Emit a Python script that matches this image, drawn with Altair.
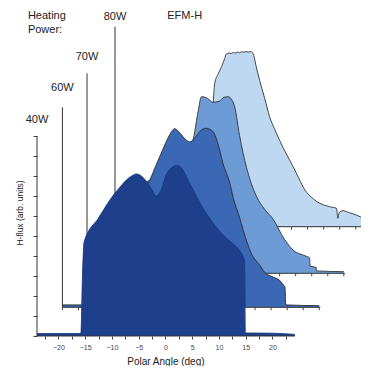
import altair as alt
import pandas as pd
import numpy as np

# ---------------- data ----------------
SERIES = ["80W", "70W", "60W", "40W"]          # drawn back to front

ANG_40 = [-24, -15.8, -15.5, -15.2, -12.5, -9.5, -8.3, -7.3, -6.3, -5.4, -4.5, -3.6, -2.6, -1.7,
          -0.8, 0.2, 1.1, 2.1, 3.0, 4.5, 6.0, 7.0, 8.5, 10.1, 11.8, 13.3, 14.5, 14.8, 14.95, 20, 24.2]
FLUX_40 = [0.012, 0.012, 0.30, 0.47, 0.59, 0.712, 0.75, 0.78, 0.80, 0.81, 0.80, 0.775, 0.735, 0.70,
           0.73, 0.81, 0.84, 0.853, 0.84, 0.765, 0.69, 0.64, 0.58, 0.525, 0.48, 0.445, 0.40, 0.38,
           0.015, 0.014, 0.008]

ANG_60 = [-24, -15.6, -15.3, -12, -9, -7.7, -6.5, -5.3, -4.2, -3.0, -2.0, -1.0, -0.2, 0.7, 1.7,
          2.8, 4.1, 5.4, 6.0, 7.3, 7.9, 9.1, 9.8, 11.3, 12.9, 13.8, 15.5, 16.6, 17.2, 17.6, 17.75, 24]
FLUX_60 = [0.012, 0.012, 0.42, 0.50, 0.58, 0.635, 0.71, 0.785, 0.85, 0.893, 0.87, 0.84, 0.827,
           0.845, 0.88, 0.895, 0.88, 0.785, 0.72, 0.62, 0.55, 0.45, 0.385, 0.27, 0.21, 0.175,
           0.15, 0.135, 0.115, 0.10, 0.012, 0.008]

ANG_70 = [-24, -15.6, -15.3, -10, -6, -4.2, -3.3, -2.6, -1.5, -0.45, 0.7, 1.6, 2.4, 3.0, 3.6, 4.5,
          5.8, 6.7, 7.7, 9.2, 10.8, 12.9, 14.8, 16.0, 17.0, 17.6, 17.7, 18.8, 18.9, 24]
FLUX_70 = [0.012, 0.012, 0.40, 0.50, 0.60, 0.667, 0.80, 0.883, 0.875, 0.855, 0.86, 0.88, 0.883,
           0.87, 0.833, 0.69, 0.53, 0.45, 0.383, 0.32, 0.27, 0.17, 0.11, 0.095, 0.085, 0.077,
           0.035, 0.03, 0.012, 0.008]

ANG_80 = [-24, -15.4, -15.2, -12, -8, -6.2, -5.7, -5.36, -4.7, -4.1, -3.5, -3.2, -2.7, -2.3, -1.9,
          -1.5, -1.1, -0.7, -0.3, 0.1, 0.5, 0.9, 1.3, 1.8, 2.4, 3.05, 4.0, 4.9, 5.8, 6.8, 8.0, 9.3,
          10.4, 11.5, 12.8, 14.3, 15.2, 16.1, 17.4, 17.65, 17.9, 18.6, 19.8, 21.1, 22.2, 23.3, 24]
FLUX_80 = [0.01, 0.01, 0.28, 0.33, 0.40, 0.46, 0.60, 0.717, 0.765, 0.80, 0.84, 0.864, 0.868, 0.866,
           0.871, 0.868, 0.873, 0.870, 0.875, 0.872, 0.876, 0.873, 0.876, 0.866, 0.80, 0.73, 0.64,
           0.55, 0.49, 0.43, 0.365, 0.30, 0.24, 0.183, 0.145, 0.117, 0.107, 0.10, 0.092, 0.042,
           0.07, 0.08, 0.07, 0.0585, 0.045, 0.034, 0.03]

ANG = {"40W": ANG_40, "60W": ANG_60, "70W": ANG_70, "80W": ANG_80}
FLUX = {"40W": FLUX_40, "60W": FLUX_60, "70W": FLUX_70, "80W": FLUX_80}

# waterfall offsets of each panel (degrees, flux units)
DX = {"40W": 0.0, "60W": 4.75, "70W": 9.35, "80W": 14.58}
DY = {"40W": 0.0, "60W": 0.1435, "70W": 0.3135, "80W": 0.5465}
LABEL_Y = {"40W": 1.08, "60W": 1.24, "70W": 1.395, "80W": 1.5965}

FILL = {"40W": "#1d3f8c", "60W": "#3a68b5", "70W": "#6c9bd6", "80W": "#bfd8f1"}
EDGE = {"40W": "#1a3a80", "60W": "#2b2b2b", "70W": "#333333", "80W": "#333333"}

AXIS_MIN, AXIS_MAX = -24, 24.2
FRONT_TICKS = [-22.5, -20, -17.5, -15, -12.5, -10, -7.5, -5, -2.5, 0, 2.5, 5, 7.5, 10,
               12.5, 15, 17.5, 20, 22.5]
BACK_TICKS = [-24, -21, -18, -15, -12, -9, -6, -3, 0, 3, 6, 9, 12, 15, 18, 21, 24]
Y_TICKS = [0, 0.1, 0.2, 0.3, 0.4, 0.5, 0.6, 0.7, 0.8, 0.9, 1.0]
TICK_LEN = 0.015

TXT = "#222222"
FONT = "Liberation Sans"

# ---------------- scales / axes ----------------
xscale = alt.Scale(domain=[-24, 36.56], nice=False, zero=False)
yscale = alt.Scale(domain=[0, 1.58], nice=False, zero=False)
xaxis = alt.Axis(values=FRONT_TICKS, title=None, domain=False, grid=False,
                 labelExpr="datum.value % 5 === 0 ? datum.label : ''",
                 tickSize=3, tickColor="#444444", labelFontSize=7, labelColor="#444444",
                 labelFont=FONT, labelPadding=4, labelFlush=False, labelOverlap=False)
yaxis = alt.Axis(values=Y_TICKS, title=None, domain=False, grid=False, labels=False,
                 tickSize=4, tickColor="#444444")


def X(f):
    return alt.X(f"{f}:Q", scale=xscale, axis=xaxis)


def Y(f):
    return alt.Y(f"{f}:Q", scale=yscale, axis=yaxis)


layers = []
for s in SERIES:
    dx, dy = DX[s], DY[s]
    clip = s == "80W"
    df = pd.DataFrame({"x": np.array(ANG[s]) + dx, "y": np.array(FLUX[s]) + dy, "base": dy})
    layers.append(alt.Chart(df).mark_area(color=FILL[s], interpolate="monotone", clip=clip)
                  .encode(x=X("x"), y=Y("y"), y2="base:Q"))
    layers.append(alt.Chart(df).mark_line(color=EDGE[s], strokeWidth=0.9, interpolate="monotone",
                                          clip=clip)
                  .encode(x=X("x"), y=Y("y")))
    if s != "40W":
        vline = pd.DataFrame({"x": [AXIS_MIN + dx], "y": [dy], "y2": [dy + 1.0]})
        hline = pd.DataFrame({"x": [AXIS_MIN + dx], "x2": [AXIS_MAX + dx], "y": [dy]})
        ticks = pd.DataFrame({"x": np.array(BACK_TICKS) + dx, "y": dy, "y2": dy - TICK_LEN})
        layers.append(alt.Chart(vline).mark_rule(color="#333333", strokeWidth=1)
                      .encode(x=X("x"), y=Y("y"), y2="y2:Q"))
        layers.append(alt.Chart(hline).mark_rule(color="#333333", strokeWidth=1, clip=clip)
                      .encode(x=X("x"), x2="x2:Q", y=Y("y")))
        layers.append(alt.Chart(ticks).mark_rule(color="#444444", strokeWidth=1, clip=clip)
                      .encode(x=X("x"), y=Y("y"), y2="y2:Q"))

# front axes lines
front_v = pd.DataFrame({"x": [AXIS_MIN], "y": [0.0], "y2": [1.0]})
front_h = pd.DataFrame({"x": [AXIS_MIN], "x2": [AXIS_MAX], "y": [0.0]})
layers.append(alt.Chart(front_v).mark_rule(color="#333333", strokeWidth=1)
              .encode(x=X("x"), y=Y("y"), y2="y2:Q"))
layers.append(alt.Chart(front_h).mark_rule(color="#333333", strokeWidth=1)
              .encode(x=X("x"), x2="x2:Q", y=Y("y")))

# panel labels
lab = pd.DataFrame({"x": [AXIS_MIN + DX[s] for s in SERIES] + [3.6],
                    "y": [LABEL_Y[s] for s in SERIES] + [1.6025],
                    "t": SERIES + ["EFM-H"]})
layers.append(alt.Chart(lab).mark_text(font=FONT, fontSize=11, color=TXT, align="center",
                                       baseline="middle")
              .encode(x=X("x"), y=Y("y"), text="t:N"))
head = pd.DataFrame({"x": [-25.7, -25.7], "y": [1.6025, 1.5325], "t": ["Heating", "Power:"]})
layers.append(alt.Chart(head).mark_text(font=FONT, fontSize=11, color=TXT, align="left",
                                        baseline="middle")
              .encode(x=X("x"), y=Y("y"), text="t:N"))
xt = pd.DataFrame({"x": [0.1], "y": [-0.13], "t": ["Polar Angle (deg)"]})
layers.append(alt.Chart(xt).mark_text(font=FONT, fontSize=10, color=TXT, align="center",
                                      baseline="middle")
              .encode(x=X("x"), y=Y("y"), text="t:N"))
yt = pd.DataFrame({"x": [-27.2], "y": [0.615], "t": ["H-flux (arb. units)"]})
layers.append(alt.Chart(yt).mark_text(font=FONT, fontSize=8.5, color=TXT, align="center",
                                      baseline="middle", angle=270)
              .encode(x=X("x"), y=Y("y"), text="t:N"))

chart = (alt.layer(*layers)
         .properties(width=324, height=316, autosize=alt.AutoSizeParams(type="none"),
                     padding={"left": 29, "top": 12, "right": 0, "bottom": 30})
         .configure_view(stroke=None))

chart.save("out.html", embed_options={"renderer": "svg", "actions": False})
